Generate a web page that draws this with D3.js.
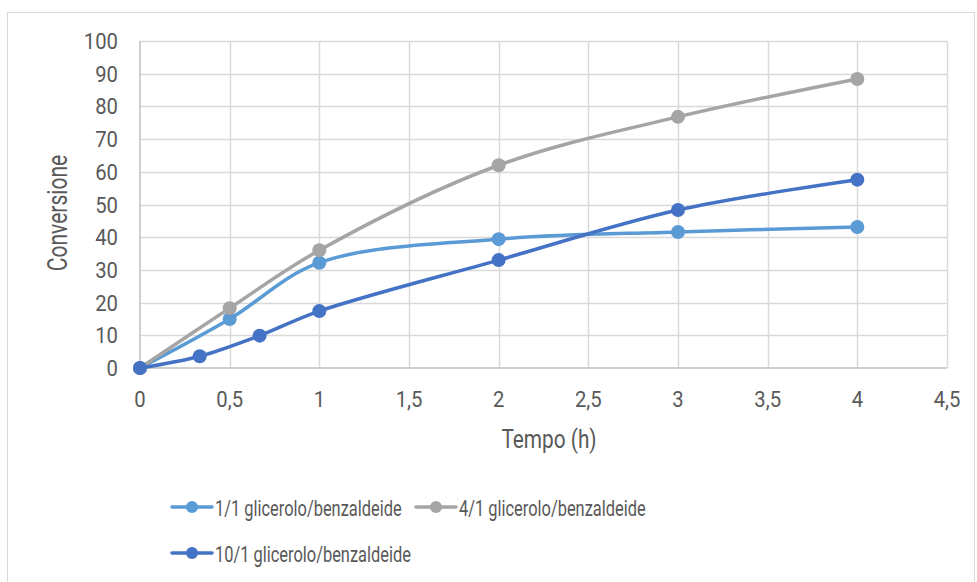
<!DOCTYPE html>
<html>
<head>
<meta charset="utf-8">
<script src="https://cdn.jsdelivr.net/npm/d3@7"></script>
<style>
  body { margin: 0; background: #fff; }
  svg text { font-family: "Roboto", sans-serif; fill: #595959; }
</style>
</head>
<body>
<svg id="chart" width="977" height="582"></svg>
<script>
// Series data
const xTicks = [0, 0.5, 1, 1.5, 2, 2.5, 3, 3.5, 4, 4.5];
const yTicks = [0, 10, 20, 30, 40, 50, 60, 70, 80, 90, 100];

const t1 = [0, 0.5, 1, 2, 3, 4];
const v1 = [0, 15, 32.2, 39.4, 41.6, 43.1];

const t4 = [0, 0.5, 1, 2, 3, 4];
const v4 = [0, 18.3, 36, 62, 76.8, 88.4];

const t10 = [0, 0.333, 0.667, 1, 2, 3, 4];
const v10 = [0, 3.6, 9.9, 17.4, 33, 48.3, 57.6];

const seriesNames = ['1/1 glicerolo/benzaldeide', '4/1 glicerolo/benzaldeide', '10/1 glicerolo/benzaldeide'];
const seriesColors = ['#5b9bd5', '#a5a5a5', '#4472c4'];

const svg = d3.select('#chart');

// narrow text: the original uses a condensed face, squeeze Roboto horizontally
function label(parent, tx, ty, txt, size, sx, anchor, rot) {
  return parent.append('text')
    .attr('transform', `translate(${tx},${ty})` + (rot ? ` rotate(${rot})` : '') + ` scale(${sx},1)`)
    .attr('text-anchor', anchor || 'start')
    .attr('font-size', size)
    .text(txt);
}

// outer chart frame
svg.append('rect')
  .attr('x', 7.5).attr('y', 12.5)
  .attr('width', 967).attr('height', 580)
  .attr('fill', 'none').attr('stroke', '#d9d9d9');

const x = d3.scaleLinear().domain([0, 4.5]).range([140, 947]);
const y = d3.scaleLinear().domain([0, 100]).range([368, 41]);

// gridlines
svg.append('g')
  .selectAll('line')
  .data(yTicks.slice(1))
  .join('line')
  .attr('x1', x(0)).attr('x2', x(4.5))
  .attr('y1', d => Math.round(y(d)) + 0.5).attr('y2', d => Math.round(y(d)) + 0.5)
  .attr('stroke', '#d9d9d9').attr('stroke-width', 1.5);

svg.append('g')
  .selectAll('line')
  .data(xTicks.slice(1))
  .join('line')
  .attr('x1', d => Math.round(x(d)) + 0.5).attr('x2', d => Math.round(x(d)) + 0.5)
  .attr('y1', y(0)).attr('y2', y(100))
  .attr('stroke', '#d9d9d9').attr('stroke-width', 1.5);

// axes lines
svg.append('line')
  .attr('x1', x(0)).attr('x2', x(0)).attr('y1', y(0)).attr('y2', y(100))
  .attr('stroke', '#bfbfbf').attr('stroke-width', 1.5);
svg.append('line')
  .attr('x1', x(0)).attr('x2', x(4.5)).attr('y1', y(0)).attr('y2', y(0))
  .attr('stroke', '#bfbfbf').attr('stroke-width', 1.5);

// tick labels
const fmt = d => String(d).replace('.', ',');
const yLab = svg.append('g');
yTicks.forEach(d => label(yLab, 118, y(d) + 8, d, 22.5, 0.9, 'end'));
const xLab = svg.append('g');
xTicks.forEach(d => label(xLab, x(d), 407, fmt(d), 22.5, 0.9, 'middle'));

// axis titles
label(svg, 549, 448, 'Tempo (h)', 26, 0.8, 'middle');
label(svg, 67, 213, 'Conversione', 27, 0.78, 'middle', -90);

// series
const series = [
  { name: seriesNames[0], color: seriesColors[0], pts: t1.map((t, i) => [t, v1[i]]) },
  { name: seriesNames[1], color: seriesColors[1], pts: t4.map((t, i) => [t, v4[i]]) },
  { name: seriesNames[2], color: seriesColors[2], pts: t10.map((t, i) => [t, v10[i]]) }
];

const line = d3.line()
  .x(d => x(d[0])).y(d => y(d[1]))
  .curve(d3.curveCatmullRom.alpha(0.5));

const g = svg.append('g');
series.forEach(s => {
  g.append('path')
    .attr('d', line(s.pts))
    .attr('fill', 'none')
    .attr('stroke', s.color)
    .attr('stroke-width', 3.5)
    .attr('stroke-linecap', 'round');
  g.selectAll(null)
    .data(s.pts)
    .join('circle')
    .attr('cx', d => x(d[0])).attr('cy', d => y(d[1]))
    .attr('r', 7)
    .attr('fill', s.color);
});

// legend
const legendPos = [[172, 507], [416, 507], [172, 553]];
series.forEach((s, i) => {
  const [lx, ly] = legendPos[i];
  const lg = svg.append('g');
  lg.append('line')
    .attr('x1', lx).attr('x2', lx + 40).attr('y1', ly).attr('y2', ly)
    .attr('stroke', s.color).attr('stroke-width', 3.5).attr('stroke-linecap', 'round');
  lg.append('circle').attr('cx', lx + 20).attr('cy', ly).attr('r', 6).attr('fill', s.color);
  label(lg, lx + 43, ly + 9, s.name, 22.5, 0.73);
});
</script>
</body>
</html>
